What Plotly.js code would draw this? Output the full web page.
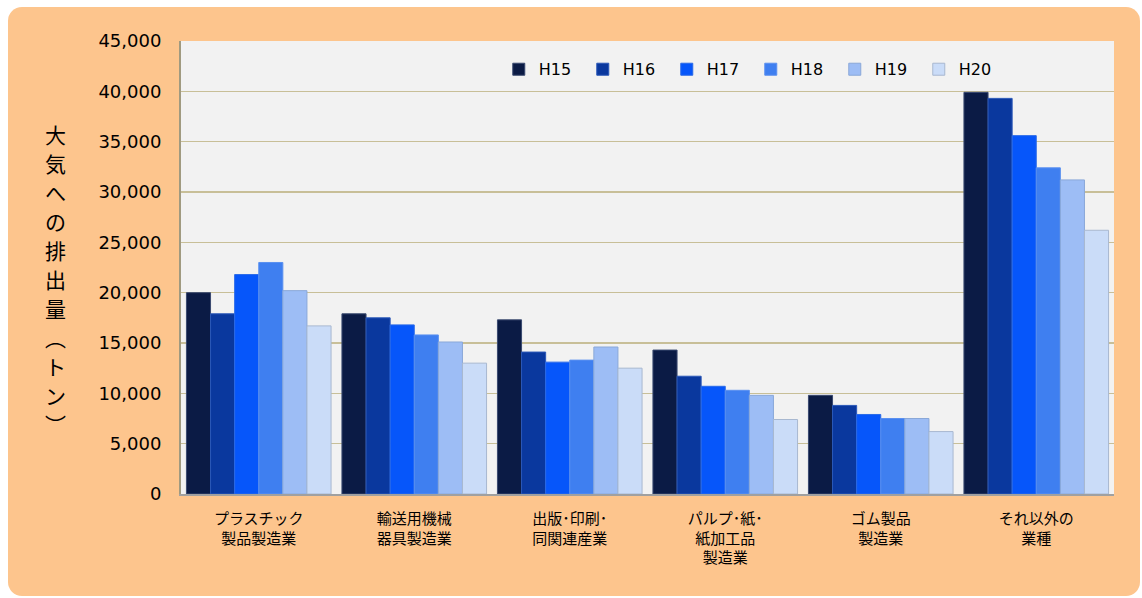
<!DOCTYPE html>
<html><head><meta charset="utf-8">
<script src="https://cdn.plot.ly/plotly-3.0.1.min.js"></script>
<style>
html,body{margin:0;padding:0;background:#fff;width:1142px;height:598px;overflow:hidden;}
#bg{position:absolute;left:8px;top:7px;width:1132px;height:589px;background:#fdc58d;border-radius:14px;}
#chart{position:absolute;left:0;top:0;width:1142px;height:598px;}
</style></head>
<body><div id="bg"></div><div id="chart"></div>
<script>
const categories = ["プラスチック<br>製品製造業","輸送用機械<br>器具製造業","出版･印刷･<br>同関連産業","パルプ･紙･<br>紙加工品<br>製造業","ゴム製品<br>製造業","それ以外の<br>業種"];
const seriesNames = ["H15","H16","H17","H18","H19","H20"];
const H15 = [20000, 17900, 17300, 14300, 9800, 39900];
const H16 = [17900, 17500, 14100, 11700, 8800, 39300];
const H17 = [21800, 16800, 13100, 10700, 7900, 35600];
const H18 = [23000, 15800, 13300, 10300, 7500, 32400];
const H19 = [20200, 15100, 14600, 9800, 7500, 31200];
const H20 = [16700, 13000, 12500, 7400, 6200, 26200];
const yTickVals = [0,5000,10000,15000,20000,25000,30000,35000,40000,45000];
const yTitle = "大気への排出量︵トン︶";

const allSeries = [H15,H16,H17,H18,H19,H20];
const colors = ["#0b1b45","#0a389e","#0656fa","#3f7ff0","#9dbdf5","#cadcf8"];
const lines = ["#3a4a70","#2a58b8","#2a6ae8","#5a90f0","#8aa8d8","#a8b8d0"];

const traces = allSeries.map((vals,i)=>({
  type:'bar', name:seriesNames[i], x:categories, y:vals,
  marker:{color:colors[i], line:{color:lines[i], width:1}},
  hoverinfo:'y'
}));

// vertical y-axis title, one character per annotation
const plotTop = 41, plotH = 453, firstY = 134, step = 29;
const titleAnn = yTitle.split('').map((ch,i)=>({
  xref:'paper', yref:'paper', x:-0.135, y:1 - (firstY + i*step - plotTop)/plotH,
  xanchor:'center', yanchor:'middle', showarrow:false,
  text: ch,
  font:{family:'"Noto Sans CJK JP", sans-serif', size:21, color:'#000'}
}));

const layout = {
  width:1142, height:598,
  paper_bgcolor:'rgba(0,0,0,0)',
  plot_bgcolor:'#f2f2f2',
  margin:{l:181, r:28, t:41, b:104},
  barmode:'group', bargap:0.07, bargroupgap:0,
  font:{family:'"DejaVu Sans", sans-serif', color:'#000'},
  xaxis:{
    tickfont:{family:'"Noto Sans CJK JP", sans-serif', size:15, color:'#000'},
    showline:true, linecolor:'#a0a0a0', linewidth:2, ticks:'', showgrid:false,
    ticklabelstandoff:10
  },
  yaxis:{
    range:[0,45000], tickvals:yTickVals, tickformat:',d',
    tickfont:{family:'"DejaVu Sans", sans-serif', size:18, color:'#000'},
    showgrid:true, gridcolor:'#c8bf98', gridwidth:1.5,
    showline:true, linecolor:'#a09a80', linewidth:2, ticks:'', ticklen:0,
    zeroline:false, ticklabelstandoff:14
  },
  legend:{
    orientation:'h', x:0.3406, y:0.975, xanchor:'left', yanchor:'top',
    bgcolor:'rgba(0,0,0,0)', font:{size:16, family:'"DejaVu Sans", sans-serif', color:'#000'},
    itemwidth:30, traceorder:'normal', entrywidth:39, entrywidthmode:'pixels'
  },
  annotations: titleAnn,
  showlegend:true
};
Plotly.newPlot('chart', traces, layout, {displayModeBar:false, staticPlot:true});
</script></body></html>
